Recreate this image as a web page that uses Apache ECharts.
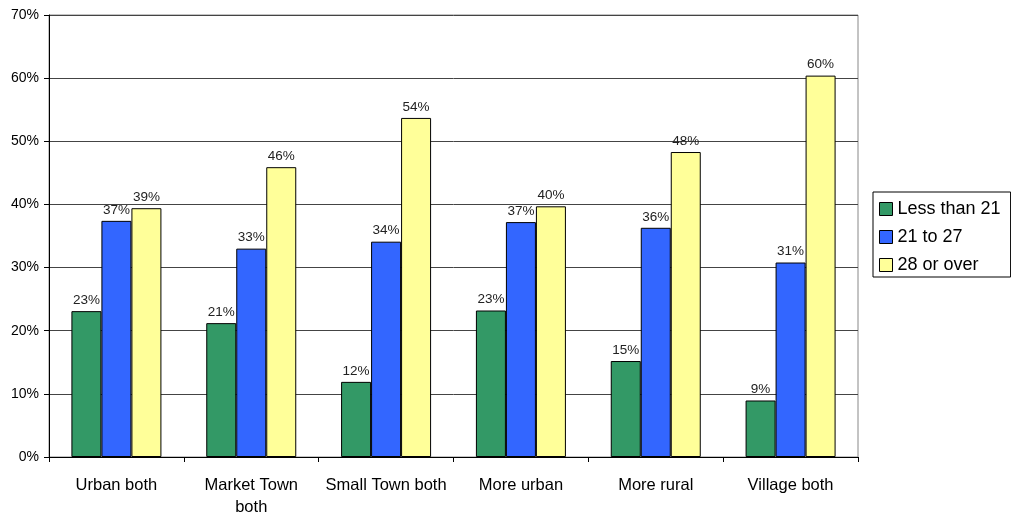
<!DOCTYPE html>
<html>
<head>
<meta charset="utf-8">
<script src="https://cdn.jsdelivr.net/npm/echarts@6/dist/echarts.min.js"></script>
<style>html,body{margin:0;padding:0;background:#fff}#c{width:1011px;height:515px}</style>
</head>
<body>
<div id="c"></div>
<script>
var categories = ['Urban both', 'Market Town\nboth', 'Small Town both', 'More urban', 'More rural', 'Village both'];
var seriesNames = ['Less than 21', '21 to 27', '28 or over'];
var lessThan21 = [23.1, 21.2, 11.9, 23.2, 15.2, 8.95];
var from21to27 = [37.4, 33.0, 34.1, 37.2, 36.3, 30.8];
var over28 = [39.4, 45.9, 53.7, 39.7, 48.3, 60.4];
var yTicks = [0, 10, 20, 30, 40, 50, 60, 70];
var colors = ['#339966', '#3366FF', '#FFFF99'];

var FONT = '"Liberation Sans", Arial, Helvetica, sans-serif';
var chart = echarts.init(document.getElementById('c'), null, {renderer: 'canvas'});
var values = [lessThan21, from21to27, over28];
var series = values.map(function (arr, i) {
  return {
    name: seriesNames[i],
    type: 'bar',
    data: arr,
    barWidth: 30,
    barGap: '0%',
    itemStyle: {color: colors[i], borderColor: '#000', borderWidth: 1},
    label: {
      show: true, position: 'top', distance: 4,
      fontFamily: FONT, fontSize: 13.5, color: '#222',
      formatter: function (p) { return Math.round(p.value) + '%'; }
    },
    emphasis: {disabled: true},
    animation: false
  };
});
chart.setOption({
  animation: false,
  backgroundColor: '#fff',
  grid: {left: 49, right: 153, top: 15, bottom: 58, outerBoundsMode: 'none', containLabel: false, show: true, borderColor: '#888', borderWidth: 1, backgroundColor: 'transparent'},
  legend: {
    orient: 'vertical', left: 873, top: 192,
    data: seriesNames,
    itemWidth: 13, itemHeight: 13, itemGap: 10,
    padding: [8, 10, 3, 6],
    borderColor: '#000', borderWidth: 1,
    icon: 'rect',
    itemStyle: {borderColor: '#000', borderWidth: 1},
    textStyle: {fontFamily: FONT, fontSize: 18, color: '#000', lineHeight: 18}
  },
  xAxis: {
    type: 'category',
    data: categories,
    axisLine: {lineStyle: {color: '#000', width: 1}},
    axisTick: {show: true, length: 5, lineStyle: {color: '#000'}},
    axisLabel: {fontFamily: FONT, fontSize: 16.5, color: '#000', margin: 17, lineHeight: 22, interval: 0}
  },
  yAxis: {
    type: 'value',
    min: yTicks[0], max: yTicks[yTicks.length - 1], interval: 10,
    axisLine: {show: true, lineStyle: {color: '#000', width: 1}},
    axisTick: {show: true, length: 5, lineStyle: {color: '#000'}},
    splitLine: {lineStyle: {color: '#444', width: 1}},
    axisLabel: {fontFamily: FONT, fontSize: 14, color: '#000', margin: 10, formatter: '{value}%'}
  },
  series: series
});
</script>
</body>
</html>
